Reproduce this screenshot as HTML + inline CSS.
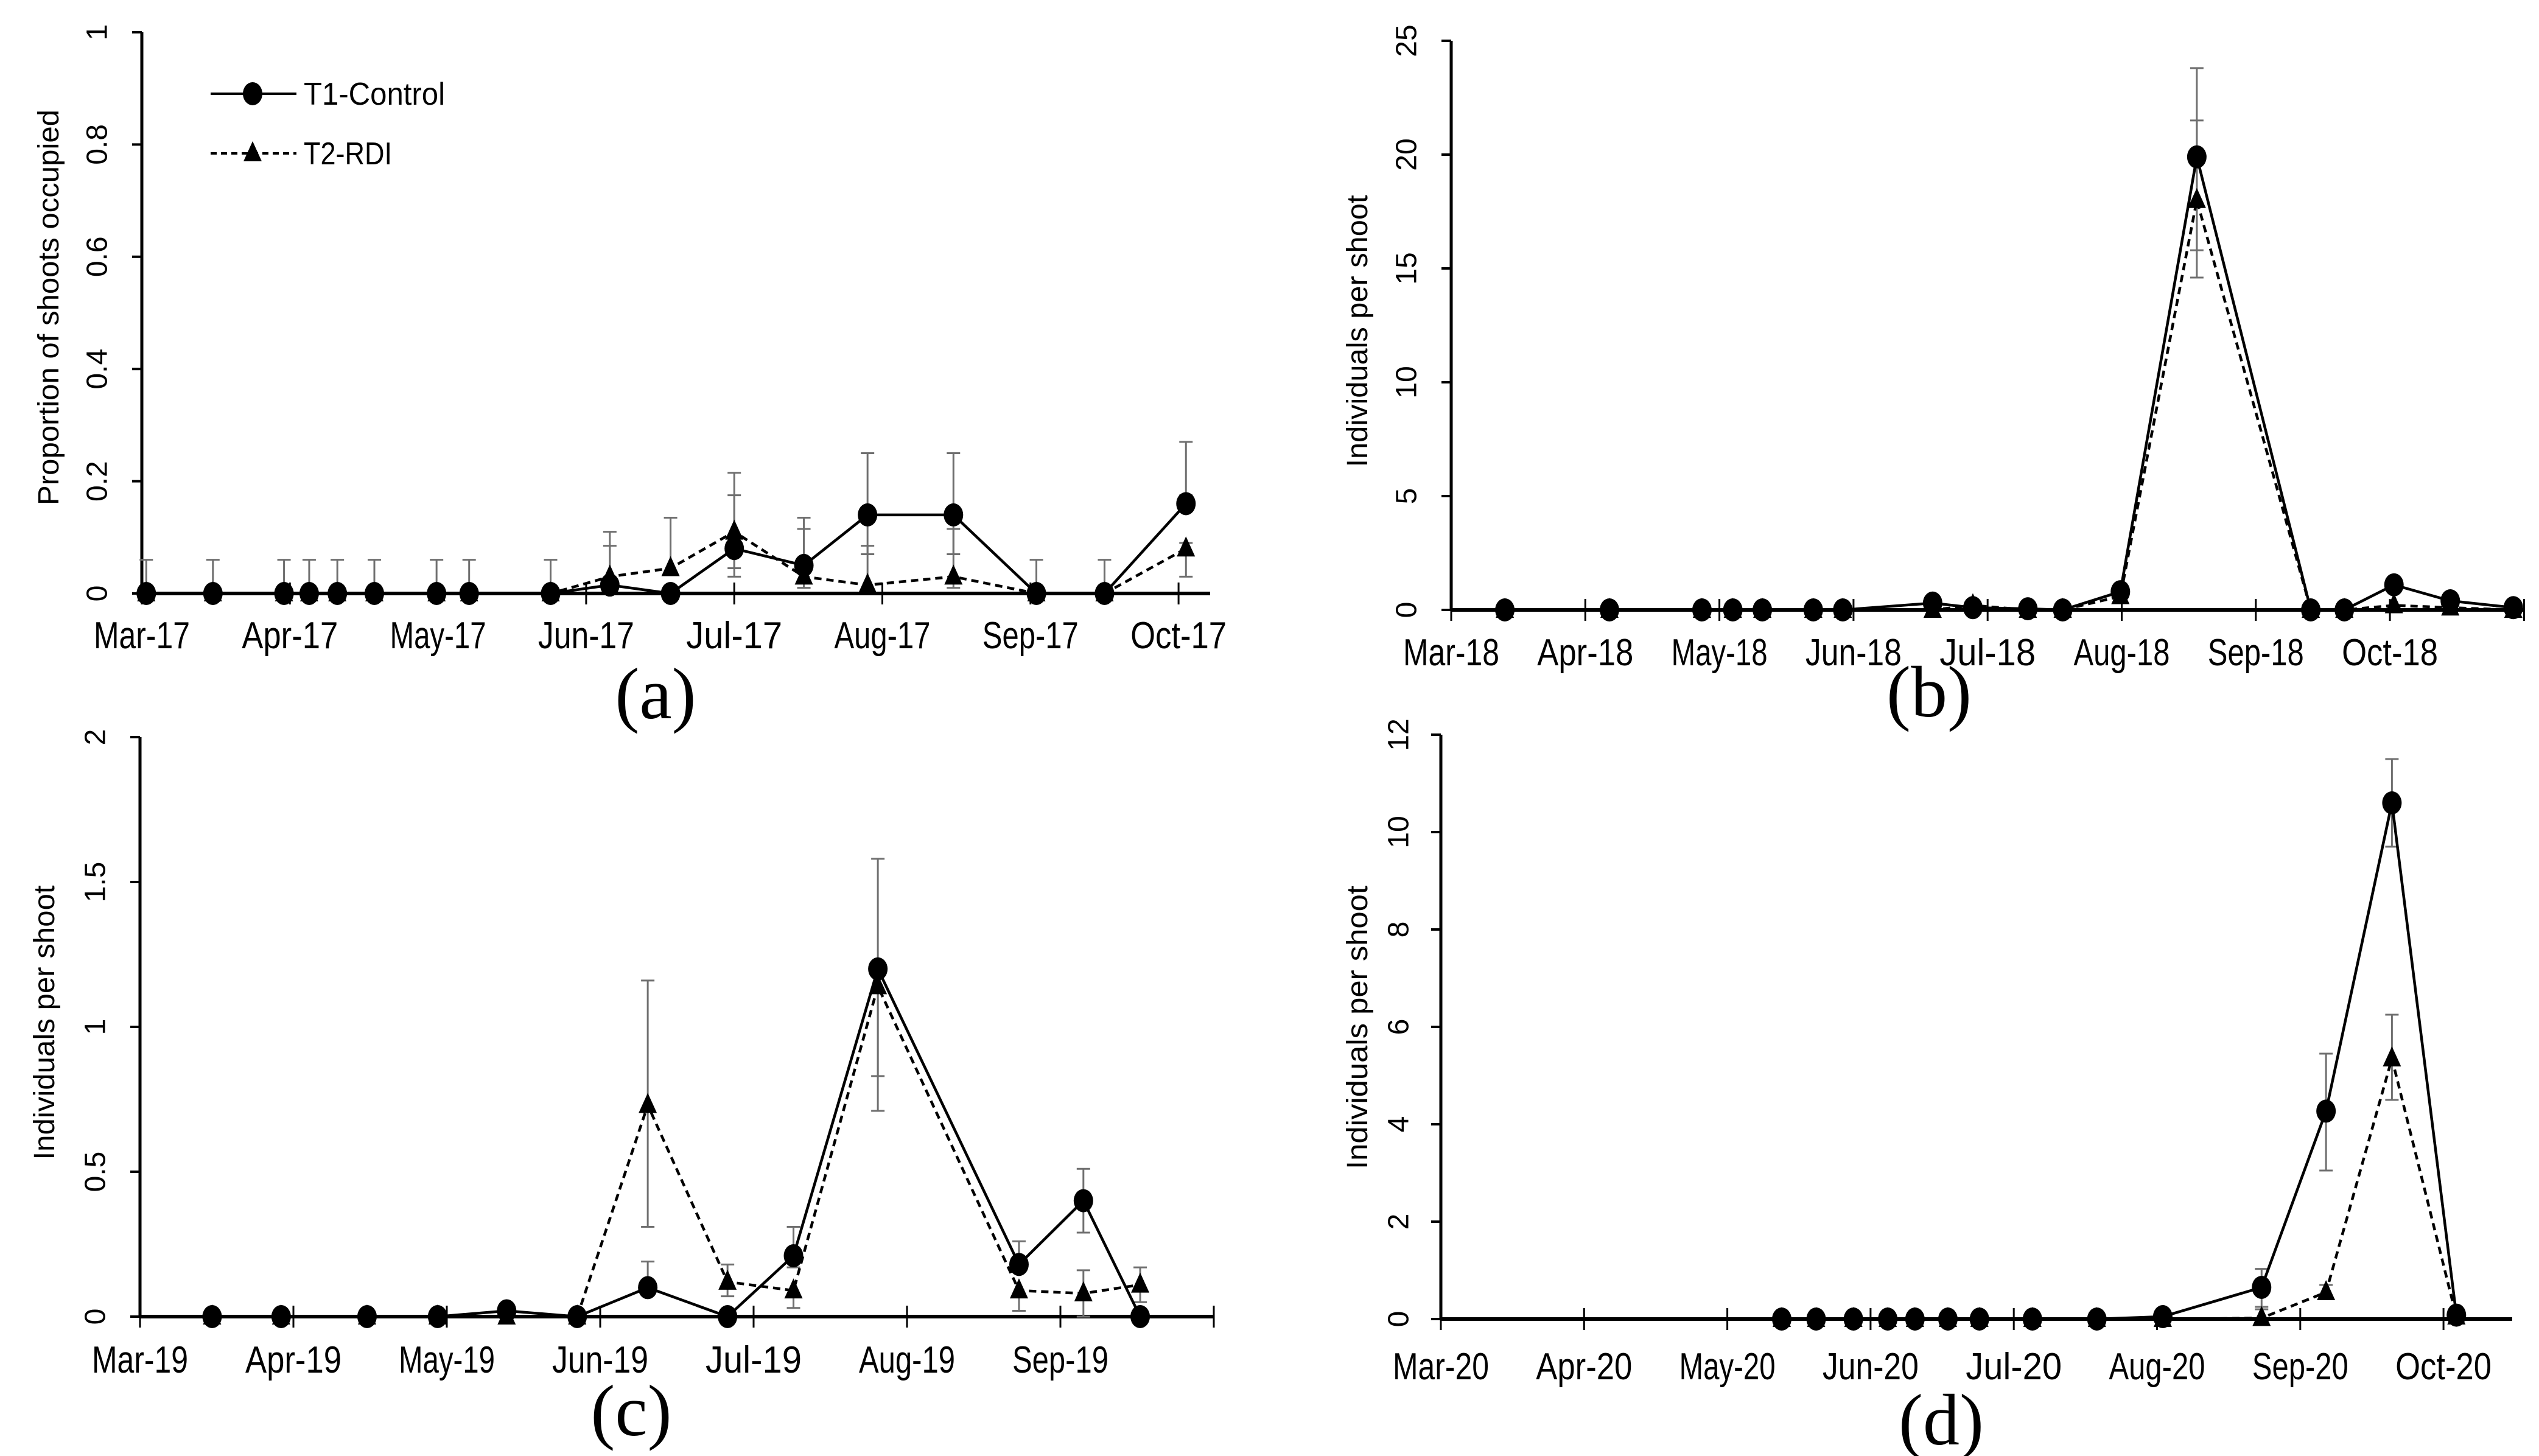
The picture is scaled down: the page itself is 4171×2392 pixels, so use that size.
<!DOCTYPE html>
<html><head><meta charset="utf-8"><style>
html,body{margin:0;padding:0;background:#fff;}
svg{display:block;}
text{font-family:"Liberation Sans",sans-serif;fill:#000;}
</style></head><body>
<svg id="fig" width="4171" height="2392" viewBox="0 0 4171 2392" xmlns="http://www.w3.org/2000/svg"></svg>
<script>
// ---------- Panel (a) data ----------
const aMonths = ["Mar-17","Apr-17","May-17","Jun-17","Jul-17","Aug-17","Sep-17","Oct-17"];
const aX = [0.03,0.48,0.96,1.13,1.32,1.57,1.99,2.21,2.76,3.16,3.57,4.0,4.47,4.90,5.48,6.04,6.50,7.05];
const aCtrl = [0,0,0,0,0,0,0,0,0,0.015,0,0.08,0.05,0.14,0.14,0,0,0.16];
const aRdi = [0,0,0,0,0,0,0,0,0,0.03,0.045,0.11,0.03,0.015,0.03,0,0,0.08];
const aCtrlHi = [0.06,0.06,0.06,0.06,0.06,0.06,0.06,0.06,0.06,0.085,null,0.175,0.115,0.25,0.25,0.06,0.06,0.27];
const aCtrlLo = [null,null,null,null,null,null,null,null,null,null,null,0.045,0.01,0.07,0.07,null,null,0.175];
const aRdiHi = [null,null,null,null,null,null,null,null,null,0.11,0.135,0.215,0.135,0.085,0.115,null,null,0.09];
const aRdiLo = [null,null,null,null,null,null,null,null,null,null,null,0.03,0.01,null,0.01,null,null,0.03];
const aYTicks = ["0","0.2","0.4","0.6","0.8","1"];
// ---------- Panel (b) data ----------
const bMonths = ["Mar-18","Apr-18","May-18","Jun-18","Jul-18","Aug-18","Sep-18","Oct-18"];
const bX = [0.40,1.18,1.87,2.10,2.32,2.70,2.92,3.59,3.89,4.30,4.56,4.99,5.56,6.41,6.66,7.03,7.45,7.92];
const bCtrl = [0,0,0,0,0,0,0,0.3,0.1,0.05,0,0.8,19.9,0,0,1.1,0.4,0.1];
const bRdi = [0,0,0,0,0,0,0,0,0.2,0,0,0.6,18,0,0,0.2,0.1,0];
const bCtrlHi = [null,null,null,null,null,null,null,null,null,null,null,null,23.8,null,null,null,null,null];
const bCtrlLo = [null,null,null,null,null,null,null,null,null,null,null,null,15.8,null,null,null,null,null];
const bRdiHi = [null,null,null,null,null,null,null,null,null,null,null,null,21.5,null,null,null,null,null];
const bRdiLo = [null,null,null,null,null,null,null,null,null,null,null,null,14.6,null,null,null,null,null];
const bYTicks = ["0","5","10","15","20","25"];
// ---------- Panel (c) data ----------
const cMonths = ["Mar-19","Apr-19","May-19","Jun-19","Jul-19","Aug-19","Sep-19"];
const cX = [0.47,0.92,1.48,1.94,2.39,2.85,3.31,3.83,4.26,4.81,5.73,6.15,6.52];
const cCtrl = [0,0,0,0,0.02,0,0.1,0,0.21,1.2,0.18,0.4,0];
const cRdi = [0,0,0,0,0,0,0.73,0.12,0.09,1.14,0.09,0.08,0.11];
const cCtrlHi = [null,null,null,null,null,null,0.19,null,0.31,1.58,0.26,0.51,null];
const cCtrlLo = [null,null,null,null,null,null,null,null,0.17,0.83,null,0.29,null];
const cRdiHi = [null,null,null,null,null,null,1.16,0.18,null,null,null,0.16,0.17];
const cRdiLo = [null,null,null,null,null,null,0.31,0.07,0.03,0.71,0.02,0,0.05];
const cYTicks = ["0","0.5","1","1.5","2"];
// ---------- Panel (d) data ----------
const dMonths = ["Mar-20","Apr-20","May-20","Jun-20","Jul-20","Aug-20","Sep-20","Oct-20"];
const dX = [2.38,2.62,2.88,3.12,3.31,3.54,3.76,4.13,4.58,5.04,5.73,6.18,6.64,7.09];
const dCtrl = [0,0,0,0,0,0,0,0,0,0.05,0.65,4.27,10.6,0.08];
const dRdi = [0,0,0,0,0,0,0,0,0,0,0.02,0.55,5.35,0.05];
const dCtrlHi = [null,null,null,null,null,null,null,null,null,null,1.03,5.45,11.5,null];
const dCtrlLo = [null,null,null,null,null,null,null,null,null,null,0.25,3.05,9.7,null];
const dRdiHi = [null,null,null,null,null,null,null,null,null,null,0.2,0.7,6.25,null];
const dRdiLo = [null,null,null,null,null,null,null,null,null,null,null,null,4.5,null];
const dYTicks = ["0","2","4","6","8","10","12"];

const NS = "http://www.w3.org/2000/svg";
const svg = document.getElementById("fig");
function mk(tag, attrs, parent){
  const e = document.createElementNS(NS, tag);
  for (const k in attrs) e.setAttribute(k, attrs[k]);
  (parent||svg).appendChild(e);
  return e;
}

function panel(cfg){
  const g = mk("g", {});
  
  
  const yMax = cfg.yMax;
  const X = m => cfg.x0 + m * cfg.dx;
  const Y = v => cfg.y0 - (v / yMax) * (cfg.y0 - cfg.yTop);
  const ya = mk("line", {x1:cfg.x0, y1:cfg.yTop, x2:cfg.x0, y2:cfg.y0, stroke:"#000", "stroke-width":5}, g);
  
  
  cfg.yTicks.forEach(t => {
    const v = parseFloat(t);
    const yy = Y(v);
    mk("line", {x1:cfg.x0-16, y1:yy, x2:cfg.x0, y2:yy, stroke:"#000", "stroke-width":4}, g);
    const tx = mk("text", {x:cfg.ylx, y:yy, "font-size":48, "text-anchor":"middle", transform:`rotate(-90 ${cfg.ylx} ${yy})`, "dominant-baseline":"central"}, g);
    tx.textContent = t;
    
    
  });
  const yt = mk("text", {x:cfg.ytx, y:cfg.ytc, "font-size":48, "text-anchor":"middle", transform:`rotate(-90 ${cfg.ytx} ${cfg.ytc})`, textLength:cfg.ytLen, lengthAdjust:"spacingAndGlyphs"}, g);
  yt.textContent = cfg.yTitle;
  
  
  const xa = mk("line", {x1:cfg.x0, y1:cfg.y0, x2:cfg.xEnd, y2:cfg.y0, stroke:"#000", "stroke-width":6}, g);
  
  
  const nT = Math.floor((cfg.xEnd - cfg.x0) / cfg.dx + 0.01);
  for (let i = 0; i <= nT; i++) {
    mk("line", {x1:X(i), y1:cfg.y0-18, x2:X(i), y2:cfg.y0+18, stroke:"#000", "stroke-width":3}, g);
  }
  cfg.months.forEach((m, i) => {
    const tx = mk("text", {x:X(i), y:cfg.xly, "font-size":62, "text-anchor":"middle", textLength:158, lengthAdjust:"spacingAndGlyphs"}, g);
    tx.textContent = m;
    
    
  });
  function eb(xs, vals, hi, lo, name){
    xs.forEach((m, i) => {
      const xx = X(m);
      const top = hi[i] != null ? hi[i] : vals[i];
      const bot = lo[i] != null ? lo[i] : vals[i];
      if (top === bot) return;
      const e = mk("g", {stroke:"#6f6f6f", "stroke-width":3}, g);
      
      
      mk("line", {x1:xx, y1:Y(top), x2:xx, y2:Y(bot)}, e);
      if (hi[i] != null) mk("line", {x1:xx-11, y1:Y(hi[i]), x2:xx+11, y2:Y(hi[i])}, e);
      if (lo[i] != null) mk("line", {x1:xx-11, y1:Y(lo[i]), x2:xx+11, y2:Y(lo[i])}, e);
    });
  }
  eb(cfg.xs, cfg.ctrl, cfg.ctrlHi, cfg.ctrlLo, "control");
  eb(cfg.xs, cfg.rdi, cfg.rdiHi, cfg.rdiLo, "rdi");
  const ptsR = cfg.xs.map((m,i) => X(m) + "," + Y(cfg.rdi[i])).join(" ");
  const lr = mk("polyline", {points:ptsR, fill:"none", stroke:"#000", "stroke-width":4.5, "stroke-dasharray":"12,8"}, g);
  
  
  const ptsC = cfg.xs.map((m,i) => X(m) + "," + Y(cfg.ctrl[i])).join(" ");
  const lc = mk("polyline", {points:ptsC, fill:"none", stroke:"#000", "stroke-width":4.5}, g);
  
  
  cfg.xs.forEach((m, i) => {
    const xx = X(m), yy = Y(cfg.rdi[i]);
    const t = mk("polygon", {points:`${xx},${yy-20} ${xx-15},${yy+13} ${xx+15},${yy+13}`, fill:"#000"}, g);
    
    
  });
  cfg.xs.forEach((m, i) => {
    const c = mk("ellipse", {cx:X(m), cy:Y(cfg.ctrl[i]), rx:16, ry:19, fill:"#000"}, g);
    
    
  });
  const pl = mk("text", {x:cfg.plx, y:cfg.ply, "font-size":120, "text-anchor":"middle", style:"font-family:'Liberation Serif',serif"}, g);
  pl.textContent = "(" + cfg.id + ")";
  
  
}

panel({id:"a", x0:233, dx:243.3, xEnd:1988, y0:975, yTop:53, yMax:1, yTicks:aYTicks, months:aMonths,
  xs:aX, ctrl:aCtrl, rdi:aRdi, ctrlHi:aCtrlHi, ctrlLo:aCtrlLo, rdiHi:aRdiHi, rdiLo:aRdiLo,
  ylx:160, ytx:96, ytc:505, ytLen:650, yTitle:"Proportion of shoots occupied", xly:1065, plx:1077, ply:1180});
panel({id:"b", x0:2384, dx:220.3, xEnd:4146, y0:1002, yTop:67, yMax:25, yTicks:bYTicks, months:bMonths,
  xs:bX, ctrl:bCtrl, rdi:bRdi, ctrlHi:bCtrlHi, ctrlLo:bCtrlLo, rdiHi:bRdiHi, rdiLo:bRdiLo,
  ylx:2311, ytx:2246, ytc:544, ytLen:447, yTitle:"Individuals per shoot", xly:1093, plx:3169, ply:1177});
panel({id:"c", x0:230, dx:252, xEnd:1994, y0:2163, yTop:1211, yMax:2, yTicks:cYTicks, months:cMonths,
  xs:cX, ctrl:cCtrl, rdi:cRdi, ctrlHi:cCtrlHi, ctrlLo:cCtrlLo, rdiHi:cRdiHi, rdiLo:cRdiLo,
  ylx:157, ytx:89, ytc:1680, ytLen:451, yTitle:"Individuals per shoot", xly:2255, plx:1037, ply:2358});
panel({id:"d", x0:2367, dx:235.3, xEnd:4127, y0:2167, yTop:1207, yMax:12, yTicks:dYTicks, months:dMonths,
  xs:dX, ctrl:dCtrl, rdi:dRdi, ctrlHi:dCtrlHi, ctrlLo:dCtrlLo, rdiHi:dRdiHi, rdiLo:dRdiLo,
  ylx:2298, ytx:2246, ytc:1688, ytLen:466, yTitle:"Individuals per shoot", xly:2266, plx:3189, ply:2373});

const lg = mk("g", {});


const l1 = mk("g", {}, lg);


mk("line", {x1:346, y1:154, x2:487, y2:154, stroke:"#000", "stroke-width":4}, l1);
mk("ellipse", {cx:415, cy:154, rx:16, ry:19, fill:"#000"}, l1);
const t1 = mk("text", {x:499, y:172, "font-size":52, textLength:232, lengthAdjust:"spacingAndGlyphs", fill:"#333"}, l1);
t1.textContent = "T1-Control";
const l2 = mk("g", {}, lg);


mk("line", {x1:346, y1:252, x2:487, y2:252, stroke:"#000", "stroke-width":4, "stroke-dasharray":"10,7"}, l2);
mk("polygon", {points:"415,232 400,265 430,265", fill:"#000"}, l2);
const t2 = mk("text", {x:499, y:270, "font-size":52, textLength:145, lengthAdjust:"spacingAndGlyphs", fill:"#333"}, l2);
t2.textContent = "T2-RDI";
</script>
</body></html>
